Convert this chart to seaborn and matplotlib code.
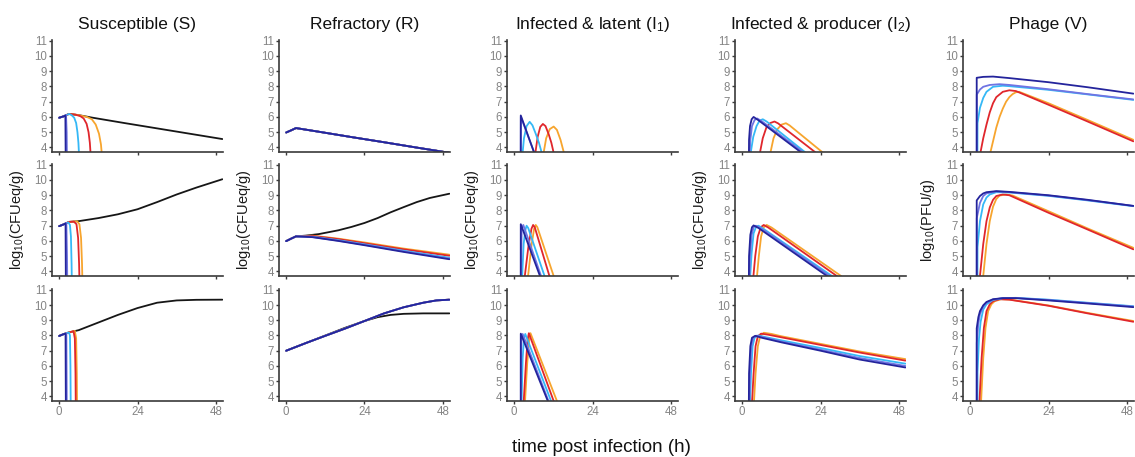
import matplotlib
matplotlib.use("Agg")
import matplotlib.pyplot as plt
import pandas as pd
import seaborn as sns

# ---------------- labels / categories ----------------
COMPARTMENTS = ["S", "R", "I1", "I2", "V"]
TITLES = ["Susceptible (S)", "Refractory (R)", "Infected & latent (I$_1$)",
          "Infected & producer (I$_2$)", "Phage (V)"]
YLABELS = ["log$_{10}$(CFUeq/g)", "log$_{10}$(CFUeq/g)", "log$_{10}$(CFUeq/g)",
           "log$_{10}$(CFUeq/g)", "log$_{10}$(PFU/g)"]
XLABEL = "time post infection (h)"
X_TICKS = [0, 24, 48]
Y_TICKS = [4, 5, 6, 7, 8, 9, 10, 11]
# none = no phage (black); p1..p5 = phage scenarios (navy -> orange)
DRAW_ORDER = ["none", "p5", "p4", "p3", "p2", "p1"]
COLORS = {"none": "#161616", "p1": "#24249c", "p2": "#6f74e3",
          "p3": "#35b8f6", "p4": "#e0262c", "p5": "#f7a52e"}

# ---------------- data: (time h, log10 value) ----------------
# Susceptible
S_row1 = {
    "none": [(0, 5.95), (1.5, 6.05), (3, 6.2), (6, 6.12), (10, 5.96), (20, 5.6), (30, 5.25), (40, 4.9), (50, 4.55)],
    "p5": [(0, 5.95), (1.5, 6.05), (3, 6.2), (6, 6.12), (8.5, 6.0), (10, 5.85), (11.2, 5.5), (12.2, 4.9), (12.8, 4.2), (13.3, 3.0)],
    "p4": [(0, 5.95), (1.5, 6.05), (3, 6.2), (5, 6.15), (6.5, 6.05), (7.5, 5.9), (8.4, 5.55), (9.0, 5.0), (9.4, 4.3), (9.8, 3.0)],
    "p3": [(0, 5.95), (1.5, 6.05), (3, 6.2), (3.8, 6.12), (4.6, 5.95), (5.2, 5.6), (5.6, 5.0), (5.9, 4.3), (6.2, 3.0)],
    "p2": [(0, 5.95), (1.5, 6.05), (2.1, 6.12), (2.3, 5.0), (2.4, 3.0)],
    "p1": [(0, 5.95), (1.5, 6.05), (1.9, 6.1), (2.0, 3.0)],
}
S_row2 = {
    "none": [(0, 6.97), (1.5, 7.1), (3, 7.25), (6, 7.3), (12, 7.5), (18, 7.75), (24, 8.08), (30, 8.55), (36, 9.05), (42, 9.5), (50, 10.05)],
    "p5": [(0, 6.97), (1.5, 7.1), (3, 7.25), (5.5, 7.29), (6.2, 7.1), (6.7, 6.2), (7.0, 4.5), (7.15, 3.0)],
    "p4": [(0, 6.97), (1.5, 7.1), (3, 7.25), (4.5, 7.27), (5.3, 7.1), (5.8, 6.2), (6.1, 4.5), (6.25, 3.0)],
    "p3": [(0, 6.97), (1.5, 7.1), (2.8, 7.22), (3.3, 7.05), (3.6, 6.3), (3.8, 4.5), (3.9, 3.0)],
    "p2": [(0, 6.97), (1.5, 7.1), (2.2, 7.17), (2.4, 5.0), (2.5, 3.0)],
    "p1": [(0, 6.97), (1.5, 7.1), (1.95, 7.15), (2.05, 3.0)],
}
S_row3 = {
    "none": [(0, 7.97), (1.5, 8.1), (3, 8.2), (6, 8.35), (12, 8.85), (18, 9.35), (24, 9.8), (30, 10.15), (36, 10.3), (42, 10.34), (50, 10.35)],
    "p5": [(0, 7.97), (1.5, 8.1), (3, 8.2), (4.8, 8.3), (5.2, 7.8), (5.4, 5.5), (5.5, 3.0)],
    "p4": [(0, 7.97), (1.5, 8.1), (3, 8.2), (4.4, 8.28), (4.8, 7.8), (5.0, 5.5), (5.1, 3.0)],
    "p3": [(0, 7.97), (1.5, 8.1), (3.0, 8.2), (3.3, 8.0), (3.45, 6.0), (3.55, 3.0)],
    "p2": [(0, 7.97), (1.5, 8.1), (2.2, 8.13), (2.35, 3.0)],
    "p1": [(0, 7.97), (1.5, 8.1), (1.95, 8.12), (2.05, 3.0)],
}
# Refractory
R_row1_all = [(0, 4.98), (1.5, 5.12), (3, 5.27), (10, 5.03), (20, 4.68), (30, 4.34), (40, 3.99), (50, 3.65)]
R_row1 = {"none": R_row1_all, "p5": R_row1_all, "p4": R_row1_all,
          "p3": R_row1_all, "p2": R_row1_all, "p1": R_row1_all}
R_row2 = {
    "none": [(0, 5.99), (1.5, 6.15), (3, 6.3), (6, 6.35), (10, 6.45), (16, 6.7), (20, 6.92), (24, 7.18), (28, 7.5), (32, 7.88), (36, 8.22), (40, 8.55), (44, 8.82), (50, 9.1)],
    "p5": [(0, 5.99), (1.5, 6.15), (3, 6.3), (8, 6.35), (16, 6.15), (24, 5.9), (36, 5.5), (50, 5.1)],
    "p4": [(0, 5.99), (1.5, 6.15), (3, 6.3), (8, 6.33), (16, 6.12), (24, 5.85), (36, 5.45), (50, 5.03)],
    "p3": [(0, 5.99), (1.5, 6.15), (3, 6.3), (8, 6.28), (16, 6.05), (24, 5.78), (36, 5.36), (50, 4.9)],
    "p2": [(0, 5.99), (1.5, 6.15), (3, 6.3), (8, 6.26), (16, 6.02), (24, 5.75), (36, 5.32), (50, 4.84)],
    "p1": [(0, 5.99), (1.5, 6.15), (3, 6.3), (8, 6.25), (16, 6.0), (24, 5.72), (36, 5.28), (50, 4.8)],
}
R_row3_phage = [(0, 7.0), (6, 7.5), (12, 7.98), (18, 8.45), (24, 8.95), (30, 9.45), (36, 9.85), (42, 10.15), (46, 10.3), (50, 10.35)]
R_row3 = {
    "none": [(0, 7.0), (6, 7.5), (12, 8.0), (18, 8.5), (24, 8.95), (28, 9.2), (32, 9.35), (36, 9.42), (42, 9.45), (50, 9.45)],
    "p5": R_row3_phage, "p4": R_row3_phage, "p3": R_row3_phage,
    "p2": R_row3_phage, "p1": R_row3_phage,
}
# Infected & latent
I1_row1 = {
    "p5": [(8.9, 3.5), (9.8, 4.6), (10.9, 5.2), (12.1, 5.37), (13.1, 5.15), (14.2, 4.5), (15.3, 3.6)],
    "p4": [(6.4, 3.5), (7.2, 4.7), (8.0, 5.35), (8.8, 5.54), (9.6, 5.4), (10.6, 4.85), (11.4, 4.3), (12.2, 3.55)],
    "p3": [(2.3, 3.0), (3.0, 4.6), (3.8, 5.4), (4.75, 5.68), (5.6, 5.45), (6.6, 4.9), (7.6, 4.3), (8.5, 3.6)],
    "p2": [(2.0, 2.0), (2.05, 6.0), (6.35, 3.55)],
    "p1": [(2.0, 2.0), (2.02, 6.1), (6.3, 3.55)],
}
I1_row2 = {
    "p5": [(4.2, 3.6), (5.3, 5.7), (6.1, 6.8), (6.6, 7.05), (7.1, 6.9), (12.1, 3.7), (12.3, 3.55)],
    "p4": [(3.2, 3.6), (4.4, 5.7), (5.3, 6.8), (5.8, 7.05), (6.3, 6.9), (10.8, 3.7), (11.0, 3.55)],
    "p3": [(2.3, 3.0), (2.9, 5.8), (3.4, 6.7), (3.8, 7.0), (4.3, 6.85), (9.3, 3.7), (9.5, 3.55)],
    "p2": [(2.0, 2.0), (2.3, 6.8), (2.8, 7.05), (8.4, 3.6)],
    "p1": [(2.0, 2.0), (2.02, 7.1), (7.9, 3.7), (8.1, 3.55)],
}
I1_row3 = {
    "p5": [(3.3, 3.6), (4.0, 6.2), (4.6, 7.7), (5.0, 8.15), (13.1, 3.7), (13.3, 3.55)],
    "p4": [(2.9, 3.6), (3.6, 6.2), (4.1, 7.7), (4.5, 8.15), (12.1, 3.7), (12.3, 3.55)],
    "p3": [(2.2, 3.0), (2.6, 6.5), (3.0, 7.8), (3.4, 8.1), (11.3, 3.7), (11.5, 3.55)],
    "p2": [(2.0, 2.0), (2.2, 7.8), (2.6, 8.1), (10.7, 3.6)],
    "p1": [(2.0, 2.0), (2.02, 8.12), (10.3, 3.7), (10.5, 3.55)],
}
# Infected & producer
I2_row1 = {
    "p5": [(8.6, 3.6), (9.6, 4.6), (10.8, 5.2), (12.1, 5.5), (13.4, 5.59), (14.5, 5.45), (24.5, 3.7), (24.8, 3.6)],
    "p4": [(5.4, 3.6), (6.3, 4.6), (7.4, 5.3), (8.6, 5.6), (9.9, 5.7), (11, 5.58), (22.3, 3.7), (22.6, 3.6)],
    "p3": [(2.5, 3.5), (3.4, 4.7), (4.4, 5.4), (5.3, 5.75), (6.3, 5.85), (7.5, 5.7), (19.2, 3.7), (19.5, 3.6)],
    "p2": [(2.1, 2.5), (2.5, 4.5), (3.0, 5.4), (3.8, 5.8), (4.6, 5.9), (6, 5.72), (18.6, 3.7), (18.9, 3.6)],
    "p1": [(2.0, 2.0), (2.1, 4.5), (2.4, 5.4), (2.9, 5.85), (3.5, 6.0), (5, 5.78), (17.9, 3.7), (18.2, 3.6)],
}
I2_row2 = {
    "p5": [(4.5, 3.6), (5.1, 5.0), (5.8, 6.3), (6.6, 6.9), (7.5, 7.05), (9, 6.88), (30.3, 3.7), (30.6, 3.6)],
    "p4": [(3.4, 3.6), (4.0, 5.0), (4.8, 6.3), (5.7, 6.9), (6.6, 7.05), (8, 6.88), (29, 3.7), (29.3, 3.6)],
    "p3": [(2.4, 3.5), (2.9, 5.2), (3.5, 6.5), (4.3, 6.95), (5.0, 7.0), (6.5, 6.8), (27.5, 3.7), (27.8, 3.6)],
    "p2": [(2.1, 2.5), (2.4, 5.0), (2.9, 6.4), (3.5, 6.9), (4.2, 7.0), (6, 6.8), (26.8, 3.7), (27.1, 3.6)],
    "p1": [(2.0, 2.0), (2.1, 5.0), (2.5, 6.4), (3.0, 6.9), (3.5, 7.02), (5, 6.85), (26, 3.7), (26.3, 3.6)],
}
I2_row3 = {
    "p5": [(3.6, 3.6), (4.1, 5.5), (4.8, 7.3), (5.5, 7.95), (6.6, 8.18), (9, 8.1), (12, 7.95), (24, 7.45), (36, 6.95), (50, 6.45)],
    "p4": [(3.0, 3.6), (3.5, 5.5), (4.1, 7.3), (4.8, 7.95), (5.8, 8.12), (8, 8.05), (12, 7.88), (24, 7.38), (36, 6.88), (50, 6.35)],
    "p3": [(2.3, 3.0), (2.7, 5.5), (3.2, 7.3), (3.8, 7.85), (5.0, 8.0), (7, 7.9), (12, 7.68), (24, 7.18), (36, 6.65), (50, 6.15)],
    "p2": [(2.1, 2.5), (2.4, 5.5), (2.8, 7.3), (3.4, 7.85), (4.5, 7.99), (6.5, 7.88), (12, 7.6), (24, 7.07), (36, 6.52), (50, 6.0)],
    "p1": [(2.0, 2.0), (2.1, 5.5), (2.5, 7.3), (3.0, 7.85), (4.0, 7.98), (6, 7.85), (12, 7.55), (24, 7.0), (36, 6.42), (50, 5.9)],
}
# Phage
V_row1 = {
    "p5": [(6, 3.5), (7, 4.4), (8, 5.3), (9, 6.0), (10, 6.55), (11, 7.0), (12, 7.3), (13, 7.5), (14, 7.62), (15, 7.65), (24, 6.9), (36, 5.8), (50, 4.5)],
    "p4": [(3.0, 3.5), (4, 4.6), (5, 5.5), (6, 6.3), (7, 6.9), (8, 7.3), (10, 7.65), (12, 7.75), (14, 7.7), (24, 6.8), (36, 5.7), (50, 4.4)],
    "p3": [(2.2, 2.0), (2.25, 5.6), (3, 6.6), (4, 7.25), (5, 7.65), (7, 7.98), (10, 8.05), (12, 8.02), (24, 7.78), (36, 7.48), (50, 7.12)],
    "p2": [(2.0, 2.0), (2.02, 7.47), (3, 7.8), (4, 7.98), (6, 8.1), (9, 8.15), (12, 8.1), (24, 7.82), (36, 7.5), (50, 7.15)],
    "p1": [(2.0, 2.0), (2.0, 8.57), (4, 8.63), (7, 8.65), (12, 8.55), (24, 8.28), (36, 7.95), (50, 7.53)],
}
V_row2 = {
    "p5": [(3.9, 3.5), (5, 5.8), (6, 7.3), (7, 8.25), (8, 8.75), (9, 8.98), (11, 9.05), (13, 8.98), (24, 7.95), (36, 6.82), (50, 5.55)],
    "p4": [(2.9, 3.5), (4, 5.8), (5, 7.3), (6, 8.2), (7, 8.7), (8, 8.95), (10, 9.05), (12, 9.0), (24, 7.85), (36, 6.75), (50, 5.45)],
    "p3": [(2.2, 2.0), (2.25, 5.6), (3, 7.3), (4, 8.4), (5, 8.85), (6, 9.05), (8, 9.2), (12, 9.18), (24, 8.96), (36, 8.66), (50, 8.28)],
    "p2": [(2.0, 2.0), (2.02, 7.5), (3, 8.5), (4, 8.95), (5, 9.12), (8, 9.25), (12, 9.2), (24, 8.98), (36, 8.68), (50, 8.3)],
    "p1": [(2.0, 2.0), (2.0, 8.66), (3, 8.95), (4, 9.12), (5, 9.2), (8, 9.27), (12, 9.22), (24, 9.0), (36, 8.7), (50, 8.3)],
}
V_row3 = {
    "p5": [(3.3, 3.5), (4, 6.5), (4.7, 8.5), (5.5, 9.6), (6.5, 10.05), (7.5, 10.25), (9.5, 10.38), (12, 10.36), (24, 9.97), (36, 9.48), (50, 8.95)],
    "p4": [(2.8, 3.5), (3.5, 6.5), (4.2, 8.5), (5, 9.6), (6, 10.05), (7, 10.25), (9, 10.38), (12, 10.35), (24, 9.95), (36, 9.45), (50, 8.9)],
    "p3": [(2.2, 2.0), (2.25, 5.6), (2.7, 7.8), (3.2, 8.9), (4, 9.7), (5, 10.05), (7, 10.33), (10, 10.45), (14, 10.47), (24, 10.35), (36, 10.15), (50, 9.92)],
    "p2": [(2.0, 2.0), (2.02, 7.5), (2.5, 8.8), (3, 9.4), (4, 9.9), (5, 10.15), (7, 10.36), (10, 10.45), (14, 10.46), (24, 10.33), (36, 10.13), (50, 9.9)],
    "p1": [(2.0, 2.0), (2.0, 8.47), (2.5, 9.2), (3, 9.6), (4, 9.98), (5, 10.2), (7, 10.38), (10, 10.45), (14, 10.45), (24, 10.3), (36, 10.1), (50, 9.86)],
}

PANELS = {
    ("S", 0): S_row1, ("S", 1): S_row2, ("S", 2): S_row3,
    ("R", 0): R_row1, ("R", 1): R_row2, ("R", 2): R_row3,
    ("I1", 0): I1_row1, ("I1", 1): I1_row2, ("I1", 2): I1_row3,
    ("I2", 0): I2_row1, ("I2", 1): I2_row2, ("I2", 2): I2_row3,
    ("V", 0): V_row1, ("V", 1): V_row2, ("V", 2): V_row3,
}

# ---------------- long-form table ----------------
records = []
for (comp, r), series in PANELS.items():
    for name, pts in series.items():
        for i, (t, y) in enumerate(pts):
            records.append({"comp": comp, "row": r, "series": name, "line": name,
                            "i": i, "t": t, "y": y})
df = pd.DataFrame(records)

# ---------------- style ----------------
sns.set_theme(style="ticks")
plt.rcParams["font.family"] = ["Liberation Sans", "DejaVu Sans"]
plt.rcParams["mathtext.fontset"] = "custom"
plt.rcParams["mathtext.rm"] = "Liberation Sans"
plt.rcParams["mathtext.it"] = "Liberation Sans:italic"
plt.rcParams["mathtext.bf"] = "Liberation Sans:bold"

W, H = 1135, 457
fig = plt.figure(figsize=(W / 100, H / 100), dpi=100)
fig.patch.set_facecolor("white")

col_left = [52, 279, 507, 735, 963]
row_top = [40, 164, 289]
ax_w, ax_h = 171, 112
AX_COLOR = "#3a3a3a"

for c, comp in enumerate(COMPARTMENTS):
    for r in range(3):
        ax = fig.add_axes([col_left[c] / W, 1 - (row_top[r] + ax_h) / H, ax_w / W, ax_h / H])
        sub = df[(df["comp"] == comp) & (df["row"] == r)]
        present = [s for s in DRAW_ORDER if s in set(sub["series"])]
        sns.lineplot(data=sub, x="t", y="y", hue="series", units="line",
                     estimator=None, sort=False, hue_order=present,
                     palette=COLORS, legend=False, ax=ax, linewidth=1.3)
        ax.set_xlim(-2.2, 50.2)
        ax.set_ylim(3.7, 11.05)
        ax.set_xticks(X_TICKS)
        ax.set_yticks(Y_TICKS)
        ax.set_facecolor("white")
        for sp in ["top", "right"]:
            ax.spines[sp].set_visible(False)
        for sp in ["left", "bottom"]:
            ax.spines[sp].set_color(AX_COLOR)
            ax.spines[sp].set_linewidth(1.2)
        ax.tick_params(axis="both", length=2.5, width=1.0, color=AX_COLOR,
                       labelsize=8.3, labelcolor="#858585", pad=1.0)
        if r < 2:
            ax.set_xticklabels([])
        ax.set_xlabel("")
        if r == 1:
            ax.set_ylabel(YLABELS[c], fontsize=10.5, color="#1a1a1a")
            ax.yaxis.set_label_coords(-26 / ax_w, 0.5)
        else:
            ax.set_ylabel("")
        if r == 0:
            ax.set_title(TITLES[c], fontsize=12.5, pad=8, color="#111111")

fig.text(601 / W, 1 - 447 / H, XLABEL, ha="center", va="center", fontsize=13.5, color="#111111")

fig.savefig("out.png", dpi=100, facecolor="white")
